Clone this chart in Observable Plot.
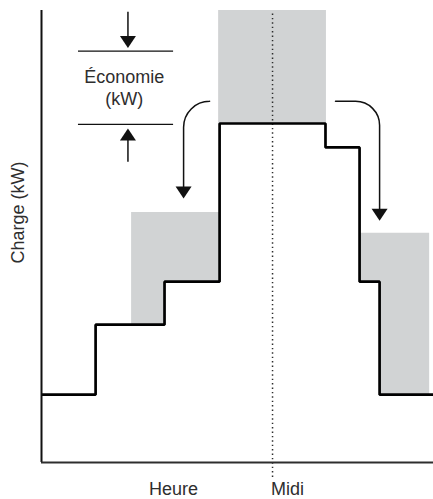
<!DOCTYPE html>
<html>
<head>
<meta charset="utf-8">
<script src="https://cdn.jsdelivr.net/npm/d3@7"></script>
<script src="https://cdn.jsdelivr.net/npm/@observablehq/plot@0.6"></script>
<style>
  html, body { margin: 0; padding: 0; background: #fff; }
  #chart svg { display: block; }
</style>
</head>
<body>
<div id="chart"></div>
<script>
// ---- Data (hours on x, relative load in % of full scale on y) ----
const xDomain = [0, 20.36];
const yDomain = [0, 100];

// Original load profile (step function)
const loadHours = [0, 2.81, 6.39, 9.25, 14.75, 16.52, 17.56, 20.36];
const loadValues = [15, 30.5, 40, 75, 69.7, 40, 15, 15];

// Shifted load areas (grey)
const morningHours = [4.68, 6.39, 9.25];
const morningTop = 55.3;
const peakHours = [9.2, 14.8];
const peakBase = 75;
const peakTop = 100;
const eveningHours = [16.52, 17.56, 20.16];
const eveningTop = 50.7;

// Noon reference
const noonHour = 12;
const noonExtent = [-3.3, 99.3];

// X tick labels
const xTickLabels = ["Heure", "Midi"];
const xTickHours = [6.86, 12.78];

// "Économie" bracket
const bracketHours = [1.92, 6.86];
const bracketLevels = [91.0, 74.8];
const bracketHour = 4.49;
const bracketTopStem = [99.6, 94.0];
const bracketTopTip = 91.7;
const bracketBottomStem = [71.5, 66.4];
const bracketBottomTip = 73.9;
const bracketText = "Économie\n(kW)";
const bracketTextHour = 4.3;
const bracketTextLevel = 79.0;

// Curved shift arrows
const leftArrowHours = [8.73, 7.38, 7.38];
const leftArrowLevels = [79.9, 79.9, 60.0];
const leftArrowTip = [7.38, 58.4];
const rightArrowHours = [15.27, 17.56, 17.56];
const rightArrowLevels = [79.9, 79.9, 55.2];
const rightArrowTip = [17.56, 53.5];

const yLabel = "Charge (kW)";

// ---- helpers ----
const stepAt = (h) => {
  let v = loadValues[0];
  for (let i = 0; i < loadHours.length; ++i) if (loadHours[i] <= h + 1e-9) v = loadValues[i];
  return v;
};
const loadData = loadHours.map((h, i) => ({h, v: loadValues[i]}));
const morningData = morningHours.map(h => ({h, base: stepAt(h), top: morningTop}));
const peakData = peakHours.map(h => ({h, base: peakBase, top: peakTop}));
const eveningData = eveningHours.map(h => ({h, base: stepAt(h), top: eveningTop}));

// rounded-corner curve using arcTo
const roundedCurve = (radius) => (context) => {
  let pts = [];
  return {
    areaStart() {}, areaEnd() {},
    lineStart() { pts = []; },
    lineEnd() {
      if (!pts.length) return;
      context.moveTo(pts[0][0], pts[0][1]);
      for (let i = 1; i < pts.length - 1; ++i)
        context.arcTo(pts[i][0], pts[i][1], pts[i + 1][0], pts[i + 1][1], radius);
      context.lineTo(pts[pts.length - 1][0], pts[pts.length - 1][1]);
    },
    point(x, y) { pts.push([x, y]); }
  };
};

// filled triangle heads with tip at the anchor point
const headDown = {draw(c) { c.moveTo(0, 0); c.lineTo(-8, -12); c.lineTo(8, -12); c.closePath(); }};
const headUp = {draw(c) { c.moveTo(0, 0); c.lineTo(-8, 12); c.lineTo(8, 12); c.closePath(); }};

const grey = "#d1d3d4";
const ink = "#2e2e2e";

const chart = Plot.plot({
  width: 433,
  height: 499,
  marginLeft: 41,
  marginRight: 0,
  marginTop: 10,
  marginBottom: 37,
  style: {fontFamily: "'Liberation Sans', Arial, sans-serif", fontSize: "18px", color: ink, background: "#fff"},
  x: {domain: xDomain},
  y: {domain: yDomain, axis: null},
  marks: [
    Plot.areaY(morningData, {x: "h", y1: "base", y2: "top", curve: "step-after", fill: grey}),
    Plot.areaY(peakData, {x: "h", y1: "base", y2: "top", curve: "step-after", fill: grey}),
    Plot.areaY(eveningData, {x: "h", y1: "base", y2: "top", curve: "step-after", fill: grey}),
    Plot.ruleX([noonHour], {y1: noonExtent[0], y2: noonExtent[1], stroke: ink, strokeWidth: 1.5, strokeDasharray: "1.4,3", clip: false}),
    Plot.line(loadData, {x: "h", y: "v", curve: "step-after", stroke: "#000", strokeWidth: 2.7, strokeLinejoin: "miter", strokeLinecap: "butt"}),
    Plot.ruleX([xDomain[0]], {stroke: "#111", strokeWidth: 2}),
    Plot.ruleY([yDomain[0]], {stroke: ink, strokeWidth: 2}),
    Plot.axisX({ticks: xTickHours, tickFormat: (d, i) => xTickLabels[i], tickSize: 0, tickPadding: 20, fontSize: 18, label: null}),
    // Économie bracket
    Plot.ruleY(bracketLevels, {x1: bracketHours[0], x2: bracketHours[1], stroke: "#111", strokeWidth: 1.3}),
    Plot.ruleX([bracketHour], {y1: bracketTopStem[0], y2: bracketTopStem[1], stroke: "#111", strokeWidth: 1.5}),
    Plot.dot([[bracketHour, bracketTopTip]], {x: d => d[0], y: d => d[1], symbol: headDown, fill: "#111", stroke: null}),
    Plot.ruleX([bracketHour], {y1: bracketBottomStem[0], y2: bracketBottomStem[1], stroke: "#111", strokeWidth: 1.5}),
    Plot.dot([[bracketHour, bracketBottomTip]], {x: d => d[0], y: d => d[1], symbol: headUp, fill: "#111", stroke: null}),
    Plot.text([bracketText], {x: bracketTextHour, y: bracketTextLevel, lineAnchor: "bottom", lineHeight: 1.222, fontSize: 18, fill: ink}),
    // shift arrows
    Plot.line(leftArrowHours.map((h, i) => [h, leftArrowLevels[i]]), {x: d => d[0], y: d => d[1], curve: roundedCurve(26), stroke: "#111", strokeWidth: 1.5}),
    Plot.dot([leftArrowTip], {x: d => d[0], y: d => d[1], symbol: headDown, fill: "#111", stroke: null}),
    Plot.line(rightArrowHours.map((h, i) => [h, rightArrowLevels[i]]), {x: d => d[0], y: d => d[1], curve: roundedCurve(24), stroke: "#111", strokeWidth: 1.5}),
    Plot.dot([rightArrowTip], {x: d => d[0], y: d => d[1], symbol: headDown, fill: "#111", stroke: null}),
    // y label
    Plot.text([yLabel], {frameAnchor: "left", textAnchor: "middle", rotate: -90, lineAnchor: "bottom", dx: -18, dy: -24, fontSize: 18, fill: ink})
  ]
});
document.getElementById("chart").appendChild(chart);
</script>
</body>
</html>
